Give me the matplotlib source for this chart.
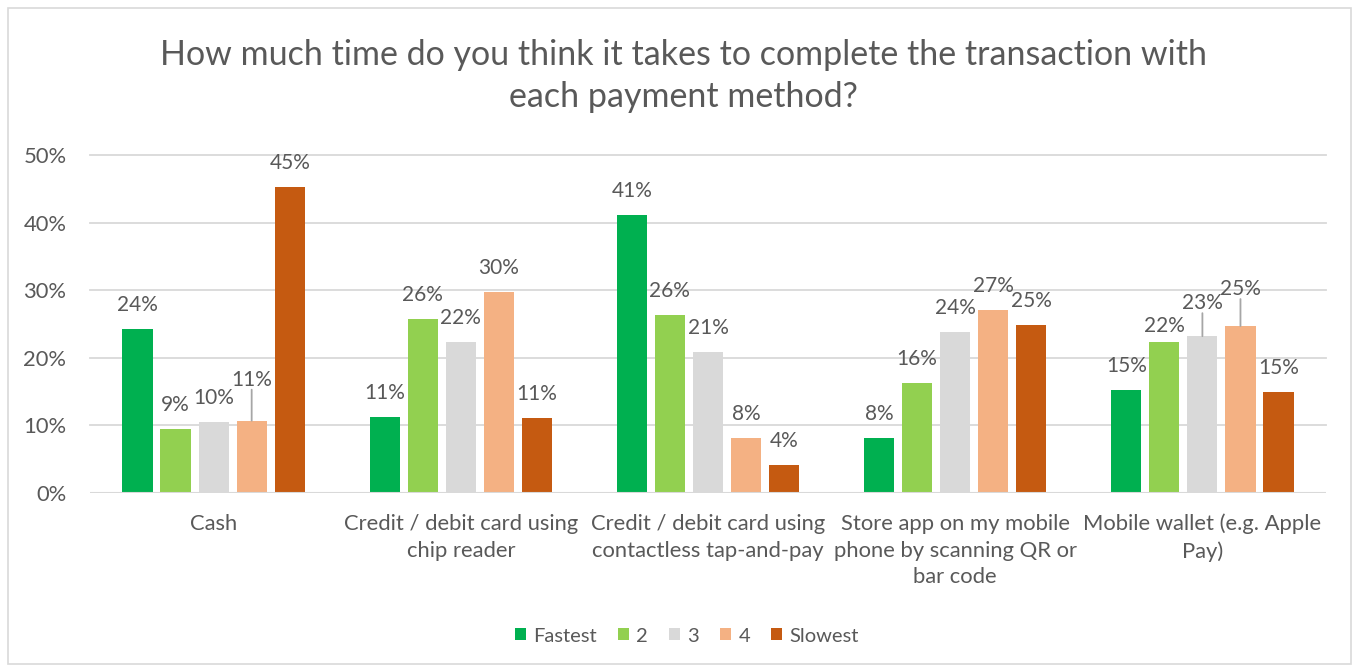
import matplotlib.pyplot as plt
from matplotlib.patches import Rectangle
import numpy as np

methods = ["Cash",
           "Credit / debit card using\nchip reader",
           "Credit / debit card using\ncontactless tap-and-pay",
           "Store app on my mobile\nphone by scanning QR or\nbar code",
           "Mobile wallet (e.g. Apple\nPay)"]
ranks = ["Fastest", "2", "3", "4", "Slowest"]

fastest = [0.243, 0.113, 0.411, 0.081, 0.153]
rank_2 = [0.094, 0.257, 0.264, 0.163, 0.223]
rank_3 = [0.105, 0.223, 0.208, 0.238, 0.232]
rank_4 = [0.107, 0.298, 0.081, 0.270, 0.247]
slowest = [0.452, 0.111, 0.042, 0.249, 0.149]

colors = ["#00B050", "#92D050", "#D9D9D9", "#F4B183", "#C55A11"]
text_gray = "#595959"
font = "Lato"

# label nudges (pixels) for crowded bars: (series, group) -> extra lift
nudge = {(3, 0): 17, (2, 4): 9, (3, 4): 13, (1, 4): -8}
leader = {(3, 0), (2, 4), (3, 4)}

W, H = 1359, 671
fig = plt.figure(figsize=(W / 100, H / 100), dpi=100)
fig.patches.append(Rectangle((8 / W, 7 / H), 1343 / W, 656 / H, transform=fig.transFigure,
                             fill=False, edgecolor="#D9D9D9", linewidth=1.2))

ax = fig.add_axes([90 / W, (H - 493) / H, 1236 / W, 338 / H])

x = np.arange(len(methods))
pitch = 0.154
width = 0.122
series = [fastest, rank_2, rank_3, rank_4, slowest]

for i, (vals, name, c) in enumerate(zip(series, ranks, colors)):
    pos = x + (i - 2) * pitch
    ax.bar(pos, vals, width, color=c, label=name, zorder=3)
    for j, (px, v) in enumerate(zip(pos, vals)):
        lift = 24 + nudge.get((i, j), 0)
        ax.annotate(f"{v:.0%}", (px, v), xytext=(0, lift), textcoords="offset pixels",
                    ha="center", va="center", fontsize=15, color=text_gray, family=font)
        if (i, j) in leader:
            ax.annotate("", (px, v), xytext=(0, lift - 10), textcoords="offset pixels",
                        arrowprops=dict(arrowstyle="-", color="#A6A6A6", lw=1.3,
                                        shrinkA=0, shrinkB=0))

ax.set_xlim(-0.5, 4.5)
ax.set_ylim(0, 0.5)
for yv in np.arange(0.1, 0.51, 0.1):
    ax.axhline(yv, color="#D9D9D9", lw=1.3, zorder=1, clip_on=False)
ax.axhline(0, color="#D9D9D9", lw=1.5, zorder=4)

ax.set_yticks(np.arange(0, 0.51, 0.1))
ax.set_yticklabels([f"{t:.0%}" for t in np.arange(0, 0.51, 0.1)])
ax.set_xticks(x)
ax.set_xticklabels(methods, linespacing=1.42)
ax.tick_params(length=0, labelsize=15.8, colors=text_gray)
ax.tick_params(axis="x", pad=15)
ax.tick_params(axis="y", pad=17)
for lab in ax.get_xticklabels() + ax.get_yticklabels():
    lab.set_family(font)
for s in ax.spines.values():
    s.set_visible(False)

fig.text(683 / W, 1 - 76 / H, "How much time do you think it takes to complete the transaction with\neach payment method?",
         ha="center", va="center", fontsize=24.5, color=text_gray, family=font, linespacing=1.4)

fig.legend(loc="center", bbox_to_anchor=(687 / W, 1 - 636 / H), ncol=5, frameon=False,
           handlelength=0.55, handleheight=0.55, handletextpad=0.35, columnspacing=1.05,
           prop={"family": font, "size": 14.5}, labelcolor=text_gray)

fig.savefig("out.png", dpi=100)
